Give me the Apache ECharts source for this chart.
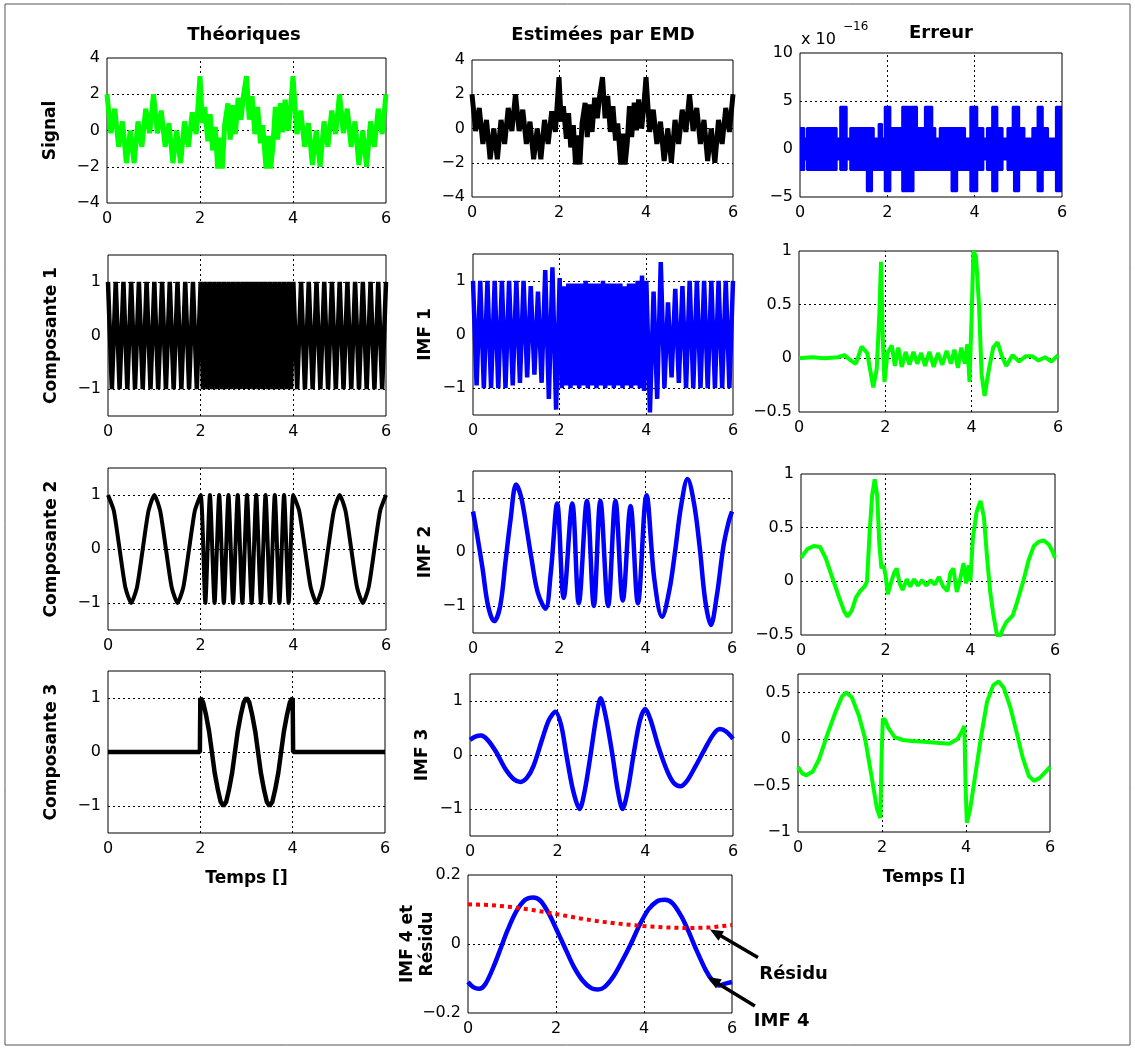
<!DOCTYPE html>
<html><head><meta charset="utf-8">
<script src="https://cdn.jsdelivr.net/npm/echarts@6.0.0/dist/echarts.min.js"></script>
<style>html,body{margin:0;padding:0;background:#fff}#c{width:1135px;height:1050px}</style>
</head><body><div id="c"></div><script>
// ================= DATA =================
const xTicks = [0, 2, 4, 6];
const xGridLines = [2, 4];

// Signal (theoretical) and estimated signal (identical to the eye)
const signalT = [0,0.083,0.167,0.25,0.333,0.417,0.5,0.583,0.667,0.75,0.833,0.917,1,1.083,1.167,1.25,1.333,1.417,1.5,1.583,1.667,1.75,1.833,1.917,2,
  2.05,2.1,2.17,2.22,2.27,2.33,2.38,2.43,2.48,2.53,2.6,2.65,2.7,2.76,2.82,2.88,2.94,3,
  3.06,3.12,3.18,3.24,3.3,3.35,3.42,3.47,3.52,3.57,3.62,3.67,3.73,3.78,3.83,3.9,3.95,4,
  4.083,4.167,4.25,4.333,4.417,4.5,4.583,4.667,4.75,4.833,4.917,5,5.083,5.167,5.25,5.333,5.417,5.5,5.583,5.667,5.75,5.833,5.917,6];
const signalY = [2,-0.15,1.2,-0.9,0.5,-1.8,0,-1.8,0.5,-0.9,1.2,-0.15,2,-0.15,1.1,-0.9,0.4,-1.8,0,-1.8,0.5,-0.9,1,-0.2,3,
  0.4,1.3,-0.6,0.9,-1.1,0.2,-2.1,-0.4,-2.1,0.3,1.5,-0.5,1.4,-0.2,1.8,0.6,2,3,
  0.6,1.9,-0.2,1.3,-0.7,0.3,-2.1,-0.3,-2.1,-0.8,1.3,-0.5,1.5,-0.1,1.7,0,1.3,3,
  -0.2,1.1,-0.9,0.4,-1.9,0,-2,0.5,-0.9,1.1,-0.2,2,-0.15,1.2,-0.9,0.5,-1.9,0,-2,0.5,-0.9,1.2,-0.2,2];

// Composante 1 and IMF 1 (same time grid)
const comp1T = [0,0.083,0.167,0.25,0.333,0.417,0.5,0.583,0.667,0.75,0.833,0.917,1,1.083,1.167,1.25,1.333,1.417,1.5,1.583,1.667,1.75,1.833,1.917,2,
  2.05,2.1,2.15,2.2,2.25,2.3,2.35,2.4,2.45,2.5,2.55,2.6,2.65,2.7,2.75,2.8,2.85,2.9,2.95,3,
  3.05,3.1,3.15,3.2,3.25,3.3,3.35,3.4,3.45,3.5,3.55,3.6,3.65,3.7,3.75,3.8,3.85,3.9,3.95,4,
  4.083,4.167,4.25,4.333,4.417,4.5,4.583,4.667,4.75,4.833,4.917,5,5.083,5.167,5.25,5.333,5.417,5.5,5.583,5.667,5.75,5.833,5.917,6];
const comp1Y = [1,-1,1,-1,1,-1,1,-1,1,-1,1,-1,1,-1,1,-1,1,-1,1,-1,1,-1,1,-1,1,
  -1,1,-1,1,-1,1,-1,1,-1,1,-1,1,-1,1,-1,1,-1,1,-1,1,
  -1,1,-1,1,-1,1,-1,1,-1,1,-1,1,-1,1,-1,1,-1,1,-1,1,
  -1,1,-1,1,-1,1,-1,1,-1,1,-1,1,-1,1,-1,1,-1,1,-1,1,-1,1,-1,1];
const imf1Y = [1,-0.95,1,-1,1,-1,1,-1,1,-1,1,-0.95,1,-0.9,1,-0.8,0.9,-0.75,0.8,-0.9,1.2,-1.2,1.25,-1.4,1.05,
  -1,0.9,-0.95,0.95,-1,0.95,-0.95,0.95,-1,0.95,-0.95,1,-1,0.95,-0.95,0.95,-1,0.95,-0.95,1,
  -1,0.95,-0.95,0.95,-1,0.95,-0.95,0.95,-1,0.9,-0.95,0.95,-1,0.95,-0.95,1,-1,1.1,-1.05,1,
  -1.45,0.8,-1.2,1.35,-1,0.6,-0.8,0.85,-0.9,0.9,-1,1,-1,1,-1,1,-1,1,-1,1,-1,1,-1,1];

// Composante 2
const comp2T = [0,0.125,0.25,0.375,0.5,0.625,0.75,0.875,1,1.125,1.25,1.375,1.5,1.625,1.75,1.875,2,
  2.1,2.2,2.3,2.4,2.5,2.6,2.7,2.8,2.9,3,3.1,3.2,3.3,3.4,3.5,3.6,3.7,3.8,3.9,4,
  4.125,4.25,4.375,4.5,4.625,4.75,4.875,5,5.125,5.25,5.375,5.5,5.625,5.75,5.875,6];
const comp2Y = [1,0.71,0,-0.71,-1,-0.71,0,0.71,1,0.71,0,-0.71,-1,-0.71,0,0.71,1,
  -1,1,-1,1,-1,1,-1,1,-1,1,-1,1,-1,1,-1,1,-1,1,-1,1,
  0.71,0,-0.71,-1,-0.71,0,0.71,1,0.71,0,-0.71,-1,-0.71,0,0.71,1];

// Composante 3
const comp3 = [[0,0],[1.99,0],[2,1],[2.06,0.92],[2.12,0.7],[2.19,0.38],[2.25,0],[2.31,-0.38],[2.38,-0.7],[2.44,-0.92],[2.5,-1],
  [2.56,-0.92],[2.62,-0.7],[2.69,-0.38],[2.75,0],[2.81,0.38],[2.88,0.7],[2.94,0.92],[3,1],
  [3.06,0.92],[3.12,0.7],[3.19,0.38],[3.25,0],[3.31,-0.38],[3.38,-0.7],[3.44,-0.92],[3.5,-1],
  [3.56,-0.92],[3.62,-0.7],[3.69,-0.38],[3.75,0],[3.81,0.38],[3.88,0.7],[3.94,0.92],[4,1],[4.01,0],[6,0]];

// IMF 2, IMF 3, IMF 4, Résidu
const imf2 = [[0,0.75],[0.1,0.3],[0.22,-0.3],[0.35,-1],[0.49,-1.28],[0.63,-1],[0.75,-0.2],[0.87,0.6],[1,1.25],[1.12,1],
  [1.25,0.4],[1.35,-0.1],[1.5,-0.75],[1.68,-1.05],[1.8,-0.4],[1.95,0.9],[2.1,-0.85],[2.3,0.9],[2.45,-0.95],[2.64,0.95],
  [2.8,-1],[2.95,0.95],[3.13,-1],[3.3,0.95],[3.47,-0.9],[3.65,0.85],[3.82,-0.95],[4.02,1.05],[4.2,-0.5],[4.38,-1.2],
  [4.55,-0.7],[4.68,0],[4.82,0.85],[4.97,1.35],[5.12,0.9],[5.25,0.1],[5.38,-0.9],[5.51,-1.35],[5.65,-0.8],[5.8,0.1],[5.92,0.55],[6,0.75]];
const imf3 = [[0,0.28],[0.12,0.34],[0.25,0.36],[0.4,0.28],[0.6,0.05],[0.8,-0.25],[1,-0.45],[1.15,-0.5],[1.3,-0.42],[1.45,-0.2],
  [1.65,0.3],[1.8,0.65],[1.95,0.8],[2.08,0.55],[2.2,0],[2.35,-0.65],[2.5,-1],[2.62,-0.65],[2.75,0],[2.88,0.7],[2.98,1.05],
  [3.1,0.7],[3.25,0],[3.37,-0.65],[3.48,-1],[3.6,-0.65],[3.75,0.1],[3.88,0.65],[4,0.85],[4.12,0.65],[4.3,0.15],[4.5,-0.3],
  [4.65,-0.52],[4.8,-0.58],[4.95,-0.48],[5.15,-0.2],[5.35,0.1],[5.55,0.38],[5.7,0.48],[5.85,0.43],[6,0.3]];
const imf4 = [[0,-0.11],[0.12,-0.125],[0.25,-0.13],[0.4,-0.115],[0.6,-0.06],[0.75,-0.01],[0.9,0.04],[1.1,0.095],[1.3,0.128],
  [1.48,0.135],[1.65,0.125],[1.85,0.085],[2,0.045],[2.2,-0.01],[2.4,-0.065],[2.6,-0.105],[2.8,-0.128],[2.95,-0.132],[3.1,-0.125],
  [3.3,-0.095],[3.5,-0.05],[3.7,0],[3.9,0.055],[4.1,0.1],[4.3,0.124],[4.47,0.128],[4.65,0.118],[4.85,0.08],[5,0.04],[5.2,-0.02],
  [5.4,-0.075],[5.55,-0.105],[5.7,-0.12],[5.85,-0.115],[6,-0.11]];
const residu = [[0,0.115],[0.5,0.113],[1,0.107],[1.5,0.098],[2,0.087],[2.5,0.075],[3,0.065],[3.5,0.058],[4,0.052],[4.5,0.048],[5,0.046],[5.5,0.048],[6,0.055]];

// Erreur, row 1 (units of 1e-16): [start, end, level] envelope segments
const err1Upper = [[0,0.1,2.2],[0.1,0.16,1.1],[0.16,0.84,2.2],[0.84,0.92,1.1],[0.92,1.07,4.4],[1.07,1.15,1.1],[1.15,1.69,2.2],
  [1.69,1.8,1.1],[1.8,1.88,2.6],[1.88,1.94,1.1],[1.94,2.07,4.4],[2.07,2.34,2.2],[2.34,2.49,4.4],[2.49,2.51,3.3],[2.51,2.68,4.4],
  [2.68,2.86,2.2],[2.86,3.03,4.4],[3.03,3.1,2.2],[3.1,3.2,1.1],[3.2,3.78,2.2],[3.78,3.9,1.1],[3.9,4.06,4.4],[4.06,4.2,2.2],
  [4.2,4.28,1.1],[4.28,4.4,2.2],[4.4,4.52,4.4],[4.52,4.64,2.2],[4.64,4.75,1.1],[4.75,4.87,2.2],[4.87,5.02,4.4],[5.02,5.14,2.2],
  [5.14,5.32,1.1],[5.32,5.44,2.2],[5.44,5.56,4.4],[5.56,5.68,2.2],[5.68,5.86,1.1],[5.86,6,4.4]];
const err1Lower = [[0,0.1,-2.2],[0.1,0.16,-1.1],[0.16,0.84,-2.2],[0.84,0.92,-1.1],[0.92,1.07,-2.2],[1.07,1.15,-1.1],[1.15,1.53,-2.2],
  [1.53,1.65,-4.4],[1.65,1.94,-2.2],[1.94,2.07,-4.4],[2.07,2.34,-2.2],[2.34,2.49,-4.4],[2.49,2.51,-2.2],[2.51,2.6,-4.4],[2.6,3.47,-2.2],
  [3.47,3.6,-4.4],[3.6,3.9,-2.2],[3.9,4.06,-4.4],[4.06,4.2,-2.2],[4.2,4.28,-1.1],[4.28,4.4,-2.2],[4.4,4.52,-4.4],[4.52,4.64,-2.2],
  [4.64,4.75,-1.1],[4.75,4.9,-2.2],[4.9,5.02,-4.4],[5.02,5.44,-2.2],[5.44,5.56,-4.4],[5.56,5.86,-2.2],[5.86,6,-4.4]];

// Erreur rows 2-4
const err2 = [[0,0],[0.3,0.01],[0.6,0],[0.9,0.01],[1.05,0.03],[1.2,-0.02],[1.32,-0.05],[1.45,0.11],[1.58,0.05],[1.72,-0.27],
  [1.8,-0.1],[1.86,0.4],[1.9,0.9],[1.94,0.2],[1.98,-0.22],[2.05,0.05],[2.15,0.12],[2.22,-0.07],[2.3,0.1],[2.38,-0.08],
  [2.47,0.06],[2.56,-0.06],[2.65,0.06],[2.74,-0.05],[2.83,0.05],[2.92,-0.07],[3.02,0.06],[3.12,-0.08],[3.22,0.05],[3.32,-0.06],
  [3.42,0.07],[3.52,-0.05],[3.6,0.08],[3.68,-0.09],[3.76,0.1],[3.84,-0.05],[3.9,0.13],[3.95,-0.22],[4,0.4],[4.04,1],
  [4.1,0.95],[4.17,0.5],[4.23,-0.15],[4.3,-0.35],[4.4,-0.1],[4.5,0.1],[4.6,0.15],[4.7,0.02],[4.8,-0.07],[4.95,0.03],
  [5.1,-0.03],[5.25,0.02],[5.4,0.02],[5.55,-0.02],[5.7,0.01],[5.85,-0.03],[6,0.03]];
const err3 = [[0,0.22],[0.15,0.3],[0.3,0.33],[0.45,0.32],[0.58,0.22],[0.7,0.08],[0.9,-0.15],[1.02,-0.28],[1.1,-0.33],[1.2,-0.27],
  [1.3,-0.15],[1.4,-0.09],[1.5,-0.05],[1.56,0],[1.62,0.45],[1.68,0.8],[1.74,0.95],[1.8,0.8],[1.85,0.35],[1.9,0.12],[1.95,0.15],
  [2,0.05],[2.05,-0.12],[2.12,-0.02],[2.2,0.08],[2.26,0.12],[2.33,-0.02],[2.4,-0.08],[2.5,0.02],[2.58,-0.05],[2.67,0.02],
  [2.76,-0.04],[2.86,0.01],[2.96,-0.04],[3.06,0.01],[3.16,-0.03],[3.26,0.04],[3.36,-0.05],[3.46,-0.09],[3.53,0.08],[3.6,0.12],
  [3.68,-0.1],[3.76,0.02],[3.84,0.17],[3.9,-0.02],[3.96,0.15],[4,0],[4.06,0.4],[4.15,0.65],[4.24,0.75],[4.32,0.6],[4.4,0.2],
  [4.47,-0.1],[4.54,-0.3],[4.62,-0.48],[4.68,-0.53],[4.76,-0.45],[4.85,-0.38],[5,-0.32],[5.1,-0.2],[5.25,0],[5.38,0.2],
  [5.5,0.33],[5.62,0.37],[5.74,0.38],[5.86,0.34],[5.94,0.28],[6,0.22]];
const err4 = [[0,-0.3],[0.1,-0.37],[0.2,-0.39],[0.35,-0.35],[0.5,-0.22],[0.7,0.05],[0.9,0.3],[1.05,0.46],[1.15,0.5],[1.28,0.45],
  [1.45,0.25],[1.6,0],[1.75,-0.4],[1.88,-0.75],[1.96,-0.85],[1.99,-0.2],[2.02,0.22],[2.08,0.2],[2.15,0.12],[2.3,0.02],
  [2.5,-0.01],[2.7,-0.02],[3,-0.03],[3.3,-0.04],[3.6,-0.05],[3.8,0],[3.9,0.08],[3.96,0.14],[3.99,-0.5],[4.02,-0.9],
  [4.1,-0.75],[4.2,-0.45],[4.35,0],[4.5,0.4],[4.65,0.58],[4.78,0.62],[4.9,0.55],[5.05,0.35],[5.2,0.08],[5.35,-0.2],
  [5.5,-0.4],[5.62,-0.45],[5.75,-0.42],[5.9,-0.35],[6,-0.3]];

// Tick labels (y) per panel
const ticksSignal = [-4, -2, 0, 2, 4];
const ticksErr1 = [-5, 0, 5, 10];
const ticksComp = [-1, 0, 1];
const ticksErrA = [-0.5, 0, 0.5, 1];
const ticksErr4 = [-1, -0.5, 0, 0.5];
const ticksImf4 = [-0.2, 0, 0.2];

// Annotation arrows (data coordinates of IMF 4 panel): tail -> head
const arrowResidu = [[6.59, -0.039], [5.5, 0.042]];
const arrowImf4 = [[6.52, -0.18], [5.45, -0.096]];
const labelResidu = [7.4, -0.088];
const labelImf4 = [7.13, -0.224];

// ================= CHART =================
const FONT = '"DejaVu Sans", "Liberation Sans", sans-serif';
const zip = (xs, ys) => xs.map((x, i) => [x, ys[i]]);
const segPts = segs => segs.flatMap(([a, b, v]) => [[a, v], [b, v]]);
function fmt(v) {
  if (Math.abs(v) < 1e-9) return '0';
  const s = String(+Math.abs(v).toFixed(6));
  return (v < 0 ? '\u2212' : '') + s;
}
const labelFor = list => v => list.some(t => Math.abs(t - v) < 1e-6) ? fmt(v) : '';

const GREEN = '#00ff00', BLUE = '#0000ff', BLACK = '#000000', RED = '#ff0000';

const panels = [
  {box:[107,58,279,145], y:[-4,4,2], ticks:ticksSignal, name:'Signal', gap:46,
   series:[{data:zip(signalT, signalY), color:GREEN, w:5}]},
  {box:[472,60,261,137], y:[-4,4,2], ticks:ticksSignal,
   series:[{data:zip(signalT, signalY), color:BLACK, w:5}]},
  {box:[800,53,262,144], y:[-5,10,5], ticks:ticksErr1,
   series:[{data:segPts(err1Upper), color:BLUE, w:2, area:true},{data:segPts(err1Lower), color:BLUE, w:2, area:true}]},
  {box:[108,255,278,161], y:[-1.5,1.5,0.5], ticks:ticksComp, name:'Composante 1', gap:46,
   series:[{data:zip(comp1T, comp1Y), color:BLACK, w:4.5}]},
  {box:[473,254,260,161], y:[-1.5,1.5,0.5], ticks:ticksComp, name:'IMF 1', gap:37,
   series:[{data:zip(comp1T, imf1Y), color:BLUE, w:4.5}]},
  {box:[799,251,259,161], y:[-0.5,1,0.5], ticks:ticksErrA,
   series:[{data:err2, color:GREEN, w:4}]},
  {box:[108,468,278,162], y:[-1.5,1.5,0.5], ticks:ticksComp, name:'Composante 2', gap:46,
   series:[{data:zip(comp2T, comp2Y), color:BLACK, w:4, smooth:0.2}]},
  {box:[473,471,259,162], y:[-1.5,1.5,0.5], ticks:ticksComp, name:'IMF 2', gap:37,
   series:[{data:imf2, color:BLUE, w:4.5, smooth:0.35}]},
  {box:[801,474,254,161], y:[-0.5,1,0.5], ticks:ticksErrA,
   series:[{data:err3, color:GREEN, w:4}]},
  {box:[108,671,277,162], y:[-1.5,1.5,0.5], ticks:ticksComp, name:'Composante 3', gap:46, xname:'Temps []',
   series:[{data:comp3, color:BLACK, w:4.5}]},
  {box:[470,674,263,162], y:[-1.5,1.5,0.5], ticks:ticksComp, name:'IMF 3', gap:37,
   series:[{data:imf3, color:BLUE, w:4.5, smooth:0.3}]},
  {box:[798,674,252,158], y:[-1,0.7,0.5], ticks:ticksErr4, xname:'Temps []',
   series:[{data:err4, color:GREEN, w:4}]},
  {box:[468,875,264,138], y:[-0.2,0.2,0.1], ticks:ticksImf4, name:'IMF 4 et\nRésidu', gap:30,
   series:[{data:imf4, color:BLUE, w:4.5, smooth:0.3},{data:residu, color:RED, w:4, type:[4,4]}]}
];

const grid = [], xAxis = [], yAxis = [], series = [];
panels.forEach((p, i) => {
  const [l, t, w, h] = p.box;
  grid.push({left:l, top:t, width:w, height:h, show:true, borderColor:'#000', borderWidth:1, backgroundColor:'#fff'});
  xAxis.push({type:'value', gridIndex:i, min:0, max:6, interval:2,
    axisLine:{show:false}, axisTick:{show:false}, splitLine:{show:false},
    axisLabel:{color:'#000', fontFamily:FONT, fontSize:16, margin:8, formatter:labelFor(xTicks)},
    name:p.xname || '', nameLocation:'middle', nameGap:37, nameMoveOverlap:false,
    nameTextStyle:{color:'#000', fontFamily:FONT, fontSize:17, fontWeight:'bold'}});
  yAxis.push({type:'value', gridIndex:i, min:p.y[0], max:p.y[1], interval:p.y[2],
    axisLine:{show:false}, axisTick:{show:false}, splitLine:{show:false},
    axisLabel:{color:'#000', fontFamily:FONT, fontSize:16, margin:7, formatter:labelFor(p.ticks)},
    name:p.name || '', nameLocation:'middle', nameGap:p.gap || 40, nameMoveOverlap:false,
    nameTextStyle:{color:'#000', fontFamily:FONT, fontSize:17, fontWeight:'bold', lineHeight:20}});
  const yGrid = p.ticks.filter(v => v > p.y[0] + 1e-9 && v < p.y[1] - 1e-9);
  p.series.forEach((s, k) => {
    const ser = {type:'line', xAxisIndex:i, yAxisIndex:i, data:s.data, symbol:'none', showSymbol:false,
      smooth:s.smooth || false, silent:true, z:3, animation:false,
      lineStyle:{color:s.color, width:s.w, type:s.type || 'solid'}};
    if (s.area) ser.areaStyle = {color:s.color, opacity:1};
    if (k === 0) {
      ser.markLine = {silent:true, symbol:['none','none'], z:1, animation:false, label:{show:false},
        emphasis:{disabled:true},
        lineStyle:{color:'#000', width:1, type:[2,3]},
        data:[...yGrid.map(v => ({yAxis:v})), ...xGridLines.map(v => ({xAxis:v}))]};
    }
    series.push(ser);
  });
});

const chart = echarts.init(document.getElementById('c'), null, {renderer:'canvas'});
chart.setOption({animation:false, backgroundColor:'#fff', grid, xAxis, yAxis, series});

// ---- annotations / titles ----
const G = panels.length - 1;
function arrowEls(seg) {
  const p0 = chart.convertToPixel({gridIndex:G}, seg[0]);
  const p1 = chart.convertToPixel({gridIndex:G}, seg[1]);
  const dx = p1[0]-p0[0], dy = p1[1]-p0[1], len = Math.hypot(dx, dy);
  const ux = dx/len, uy = dy/len, nx = -uy, ny = ux, L = 13, W = 11;
  const bx = p1[0]-ux*L, by = p1[1]-uy*L;
  return [
    {type:'line', z:100, shape:{x1:p0[0], y1:p0[1], x2:bx+ux*2, y2:by+uy*2}, style:{stroke:'#000', lineWidth:3.5}},
    {type:'polygon', z:100, shape:{points:[[p1[0],p1[1]],[bx+nx*W/2,by+ny*W/2],[bx-nx*W/2,by-ny*W/2]]}, style:{fill:'#000'}}
  ];
}
const pr = chart.convertToPixel({gridIndex:G}, labelResidu);
const pi = chart.convertToPixel({gridIndex:G}, labelImf4);
const txt = (x, y, text, font, align) => ({type:'text', z:100, style:{x, y, text, font, fill:'#000', align:align||'center', verticalAlign:'middle'}});
const TB = 'bold 18px ' + FONT;
const graphic = [
  {type:'rect', z:-1, shape:{x:5, y:4, width:1125, height:1041}, style:{fill:'none', stroke:'#555', lineWidth:1}},
  txt(244, 35, 'Théoriques', TB),
  txt(603, 35, 'Estimées par EMD', TB),
  txt(941, 33, 'Erreur', TB),
  txt(801, 40, 'x 10', '16px ' + FONT, 'left'),
  txt(843, 27, '\u221216', '12px ' + FONT, 'left'),
  ...arrowEls(arrowResidu),
  ...arrowEls(arrowImf4),
  txt(pr[0], pr[1], 'Résidu', 'bold 18px ' + FONT),
  txt(pi[0], pi[1], 'IMF 4', 'bold 18px ' + FONT)
];
chart.setOption({graphic});
</script></body></html>
